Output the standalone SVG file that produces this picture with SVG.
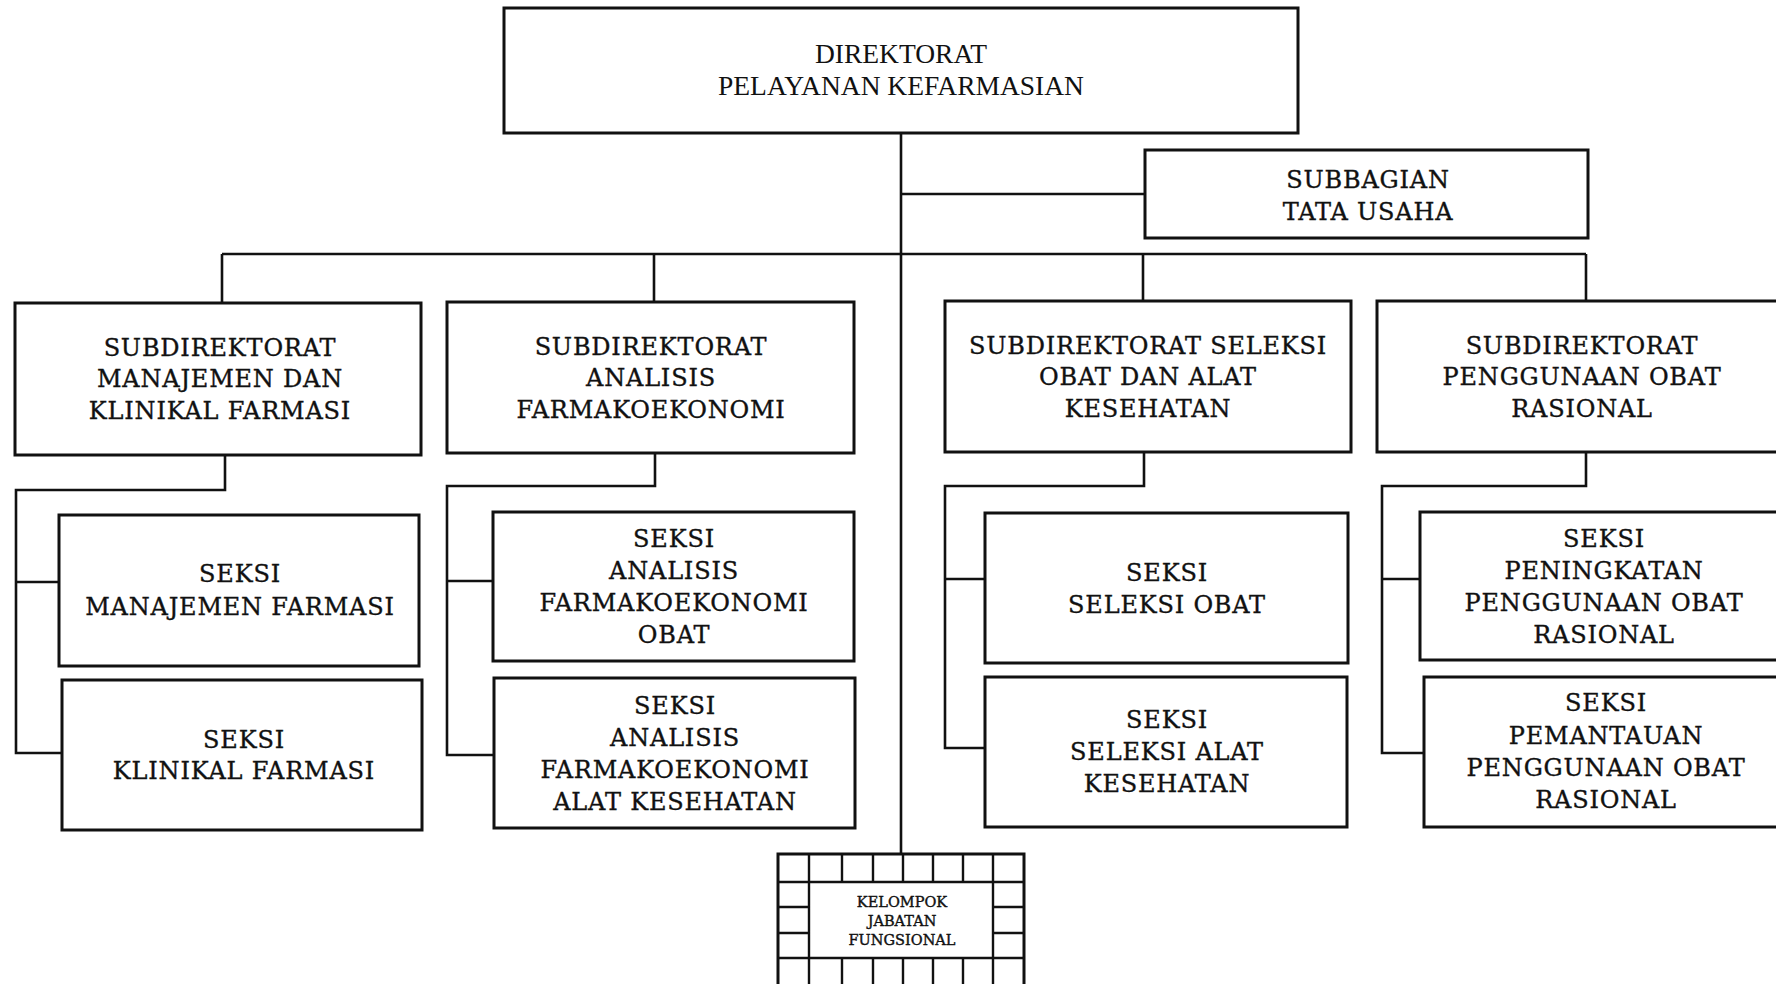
<svg xmlns="http://www.w3.org/2000/svg" width="1776" height="984" viewBox="0 0 1776 984">
  <style>
    .box { fill: #ffffff; stroke: #111111; stroke-width: 3; }
    .wire { fill: none; stroke: #111111; stroke-width: 2.6; }
    .grid { fill: none; stroke: #111111; stroke-width: 2.4; }
    .head { font-family: "Liberation Serif", "Times New Roman", serif; font-size: 27.5px; fill: #111111; text-anchor: middle; }
    .lbl { font-family: "DejaVu Serif", "Liberation Serif", serif; font-size: 24px; letter-spacing: 0.8px; fill: #111111; stroke: #111111; stroke-width: 0.35px; text-anchor: middle; }
    .small { font-family: "DejaVu Serif", "Liberation Serif", serif; font-size: 14.5px; fill: #111111; stroke: #111111; stroke-width: 0.4px; text-anchor: middle; }
  </style>
  <rect width="1776" height="984" fill="#ffffff"/>

  <!-- connectors -->
  <g id="connectors">
    <path class="wire" d="M901 133 V855"/>
    <path class="wire" d="M901 194 H1145"/>
    <path class="wire" d="M222 254 H1586"/>
    <path class="wire" d="M222 254 V303 M654 254 V302 M1143 254 V301 M1586 254 V301"/>
    <path class="wire" d="M225 455 V490 H16 V753 H62 M16 582 H59"/>
    <path class="wire" d="M655 453 V486 H447 V755 H494 M447 581 H493"/>
    <path class="wire" d="M1144 452 V486 H945 V748 H985 M945 579 H985"/>
    <path class="wire" d="M1586 452 V486 H1382 V753 H1424 M1382 579 H1420"/>
  </g>

  <g id="direktorat">
    <rect class="box" x="504" y="8" width="794" height="125"/>
    <text class="head" x="901" y="63">DIREKTORAT</text>
    <text class="head" x="901" y="95">PELAYANAN KEFARMASIAN</text>
  </g>

  <g id="subbagian-tu">
    <rect class="box" x="1145" y="150" width="443" height="88"/>
    <text class="lbl" x="1368" y="188">SUBBAGIAN</text>
    <text class="lbl" x="1368" y="220">TATA USAHA</text>
  </g>

  <g id="subdit-manajemen">
    <rect class="box" x="15" y="303" width="406" height="152"/>
    <text class="lbl" x="220" y="356">SUBDIREKTORAT</text>
    <text class="lbl" x="220" y="387">MANAJEMEN DAN</text>
    <text class="lbl" x="220" y="419">KLINIKAL FARMASI</text>
  </g>

  <g id="subdit-analisis">
    <rect class="box" x="447" y="302" width="407" height="151"/>
    <text class="lbl" x="651" y="355">SUBDIREKTORAT</text>
    <text class="lbl" x="651" y="386">ANALISIS</text>
    <text class="lbl" x="651" y="418">FARMAKOEKONOMI</text>
  </g>

  <g id="subdit-seleksi">
    <rect class="box" x="945" y="301" width="406" height="151"/>
    <text class="lbl" x="1148" y="354">SUBDIREKTORAT SELEKSI</text>
    <text class="lbl" x="1148" y="385">OBAT DAN ALAT</text>
    <text class="lbl" x="1148" y="417">KESEHATAN</text>
  </g>

  <g id="subdit-penggunaan">
    <rect class="box" x="1377" y="301" width="430" height="151"/>
    <text class="lbl" x="1582" y="354">SUBDIREKTORAT</text>
    <text class="lbl" x="1582" y="385">PENGGUNAAN OBAT</text>
    <text class="lbl" x="1582" y="417">RASIONAL</text>
  </g>

  <g id="seksi-manajemen-farmasi">
    <rect class="box" x="59" y="515" width="360" height="151"/>
    <text class="lbl" x="240" y="582">SEKSI</text>
    <text class="lbl" x="240" y="615">MANAJEMEN FARMASI</text>
  </g>

  <g id="seksi-klinikal-farmasi">
    <rect class="box" x="62" y="680" width="360" height="150"/>
    <text class="lbl" x="244" y="748">SEKSI</text>
    <text class="lbl" x="244" y="779">KLINIKAL FARMASI</text>
  </g>

  <g id="seksi-fe-obat">
    <rect class="box" x="493" y="512" width="361" height="149"/>
    <text class="lbl" x="674" y="547">SEKSI</text>
    <text class="lbl" x="674" y="579">ANALISIS</text>
    <text class="lbl" x="674" y="611">FARMAKOEKONOMI</text>
    <text class="lbl" x="674" y="643">OBAT</text>
  </g>

  <g id="seksi-fe-alkes">
    <rect class="box" x="494" y="678" width="361" height="150"/>
    <text class="lbl" x="675" y="714">SEKSI</text>
    <text class="lbl" x="675" y="746">ANALISIS</text>
    <text class="lbl" x="675" y="778">FARMAKOEKONOMI</text>
    <text class="lbl" x="675" y="810">ALAT KESEHATAN</text>
  </g>

  <g id="seksi-seleksi-obat">
    <rect class="box" x="985" y="513" width="363" height="150"/>
    <text class="lbl" x="1167" y="581">SEKSI</text>
    <text class="lbl" x="1167" y="613">SELEKSI OBAT</text>
  </g>

  <g id="seksi-seleksi-alkes">
    <rect class="box" x="985" y="677" width="362" height="150"/>
    <text class="lbl" x="1167" y="728">SEKSI</text>
    <text class="lbl" x="1167" y="760">SELEKSI ALAT</text>
    <text class="lbl" x="1167" y="792">KESEHATAN</text>
  </g>

  <g id="seksi-peningkatan-por">
    <rect class="box" x="1420" y="512" width="390" height="148"/>
    <text class="lbl" x="1604" y="547">SEKSI</text>
    <text class="lbl" x="1604" y="579">PENINGKATAN</text>
    <text class="lbl" x="1604" y="611">PENGGUNAAN OBAT</text>
    <text class="lbl" x="1604" y="643">RASIONAL</text>
  </g>

  <g id="seksi-pemantauan-por">
    <rect class="box" x="1424" y="677" width="390" height="150"/>
    <text class="lbl" x="1606" y="711">SEKSI</text>
    <text class="lbl" x="1606" y="744">PEMANTAUAN</text>
    <text class="lbl" x="1606" y="776">PENGGUNAAN OBAT</text>
    <text class="lbl" x="1606" y="808">RASIONAL</text>
  </g>

  <!-- functional group: framed box with a border of cells -->
  <g id="kelompok-jabatan-fungsional">
    <rect class="box" x="778" y="854" width="246" height="142"/>
    <path class="grid" d="M778 882 H1024 M778 958 H1024 M809 882 V958 M993 882 V958
      M809 854 V882 M842 854 V882 M873 854 V882 M903 854 V882 M933 854 V882 M963 854 V882 M993 854 V882
      M809 958 V996 M842 958 V996 M873 958 V996 M903 958 V996 M933 958 V996 M963 958 V996 M993 958 V996
      M778 907 H809 M778 933 H809 M993 907 H1024 M993 933 H1024"/>
    <text class="small" x="902" y="907">KELOMPOK</text>
    <text class="small" x="902" y="926">JABATAN</text>
    <text class="small" x="902" y="945">FUNGSIONAL</text>
  </g>
</svg>
